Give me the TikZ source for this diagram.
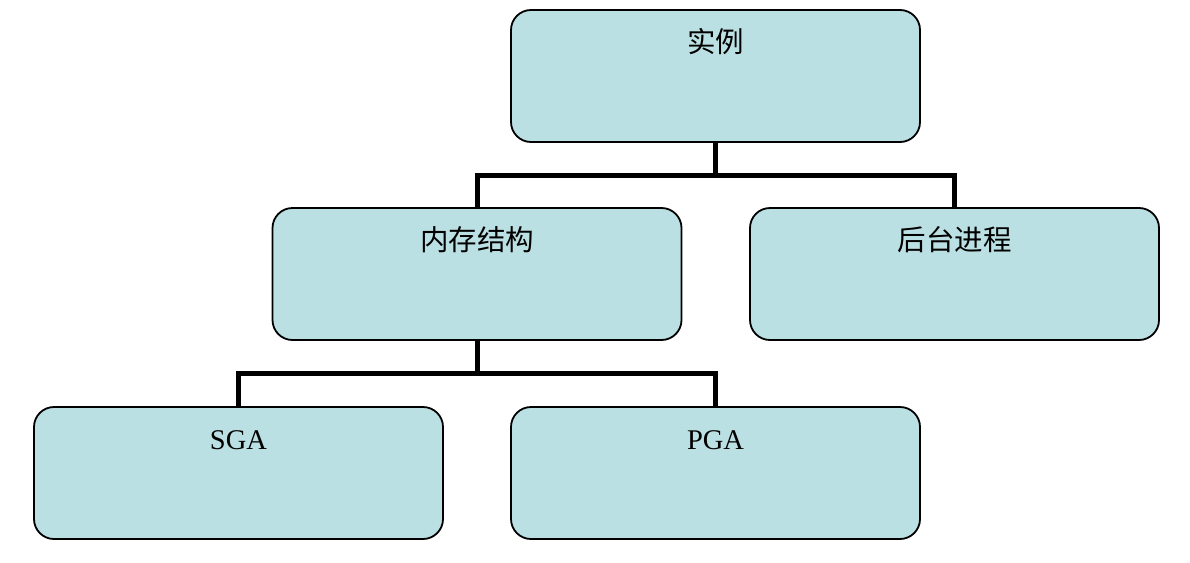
\documentclass[tikz,border=0pt]{standalone}
\usepackage{fontspec}
\setmainfont{Liberation Serif}
\newfontfamily\cjk{Noto Sans CJK SC}
\usetikzlibrary{positioning}
\definecolor{boxfill}{HTML}{BBE0E3}

\begin{document}
\begin{tikzpicture}[x=1pt, y=-1pt,
  part/.style={draw, line width=1.8pt, fill=boxfill, rounded corners=20pt,
    minimum width=409pt, inner sep=0pt, text height=42pt, text depth=90pt,
    font=\fontsize{28.5}{32}\selectfont},
  link/.style={line width=5pt}]
\useasboundingbox (0,0) rectangle (1190,562);
\node[part] (inst) at (715.5,76) {\cjk 实例};
\node[part] (mem) at (477,274) {\cjk 内存结构};
\node[part] (bg) at (954.5,274) {\cjk 后台进程};
\node[part] (sga) at (238.5,473) {SGA};
\node[part] (pga) at (715.5,473) {PGA};
\draw[link] (inst.south) -- ++(0,33) -| (mem.north);
\draw[link] (inst.south) -- ++(0,33) -| (bg.north);
\draw[link] (mem.south) -- ++(0,33) -| (sga.north);
\draw[link] (mem.south) -- ++(0,33) -| (pga.north);
\end{tikzpicture}
\end{document}
